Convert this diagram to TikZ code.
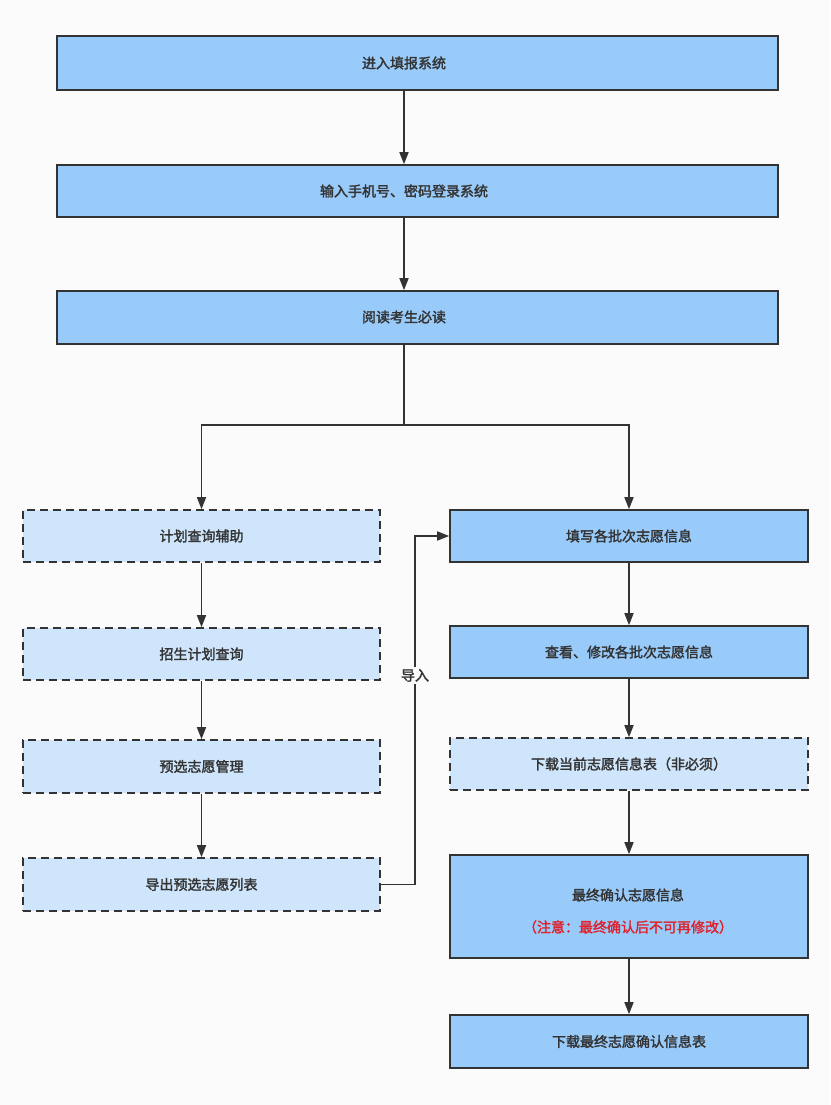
\documentclass[tikz,border=0pt]{standalone}
\usepackage{fontspec}
\setmainfont{Noto Sans CJK SC}[AutoFakeBold=2]
\usetikzlibrary{arrows.meta}
\definecolor{solidb}{HTML}{99CBFA}
\definecolor{lightb}{HTML}{CFE5FB}
\definecolor{edge}{HTML}{333333}
\definecolor{redt}{HTML}{E0202A}
\begin{document}
\begin{tikzpicture}[x=1pt,y=-1pt,
  box/.style={draw=edge,line width=1.6pt,fill=solidb,inner sep=0pt},
  dbox/.style={box,fill=lightb,dash pattern=on 8pt off 5pt},
  t/.style={font=\fontsize{14}{17}\selectfont\bfseries,text=edge},
  arr/.style={draw=edge,line width=1.6pt,-{Triangle[length=12pt,width=9pt]}}]
\fill[white!97!gray] (0,0) rectangle (830,1105);
\useasboundingbox (0,0) rectangle (830,1105);
\newcommand{\bx}[6]{\node[#1,minimum width=#4-#3,minimum height=#6-#5] (#2) at ({(#3+#4)/2},{(#5+#6)/2}) {};}
\bx{box}{a}{57}{778}{36}{90}
\bx{box}{b}{57}{778}{165}{217}
\bx{box}{c}{57}{778}{291}{344}
\bx{dbox}{l1}{23}{380}{510}{562}
\bx{dbox}{l2}{23}{380}{628}{680}
\bx{dbox}{l3}{23}{380}{740}{793}
\bx{dbox}{l4}{23}{380}{858}{911}
\bx{box}{r1}{450}{808}{510}{562}
\bx{box}{r2}{450}{808}{626}{678}
\bx{dbox}{r3}{450}{808}{738}{790}
\bx{box}{r4}{450}{808}{855}{958}
\bx{box}{r5}{450}{808}{1015}{1068}
\coordinate (ta) at (404,63);
\coordinate (tb) at (404,191);
\coordinate (tc) at (404,317);
\node[t] at (ta) {进入填报系统};
\node[t] at (tb) {输入手机号、密码登录系统};
\node[t] at (tc) {阅读考生必读};
\node[t] at (l1) {计划查询辅助};
\node[t] at (l2) {招生计划查询};
\node[t] at (l3) {预选志愿管理};
\node[t] at (l4) {导出预选志愿列表};
\node[t] at (r1) {填写各批次志愿信息};
\node[t] at (r2) {查看、修改各批次志愿信息};
\node[t] at (r3) {下载当前志愿信息表（非必须）};
\node[t] at (628,895) {最终确认志愿信息};
\node[t,text=redt] at (628,927) {（注意：最终确认后不可再修改）};
\node[t] at (r5) {下载最终志愿确认信息表};
\coordinate (j) at (404,425);
\draw[arr] (a.south -| ta) -- (b.north -| ta);
\draw[arr] (b.south -| ta) -- (c.north -| ta);
\draw[draw=edge,line width=1.6pt] (c.south -| ta) -- (j);
\draw[arr] (j) -| (l1.north);
\draw[arr] (j) -| (r1.north);
\draw[arr] (l1) -- (l2);
\draw[arr] (l2) -- (l3);
\draw[arr] (l3) -- (l4);
\draw[arr] (r1) -- (r2);
\draw[arr] (r2) -- (r3);
\draw[arr] (r3) -- (r4);
\draw[arr] (r4) -- (r5);
\coordinate (k) at (415,884.5);
\draw[arr] (l4.east) -- (k) |- (r1.west) node[pos=0.3,fill=white!97!gray,t,inner sep=2pt] {导入};
\end{tikzpicture}
\end{document}
